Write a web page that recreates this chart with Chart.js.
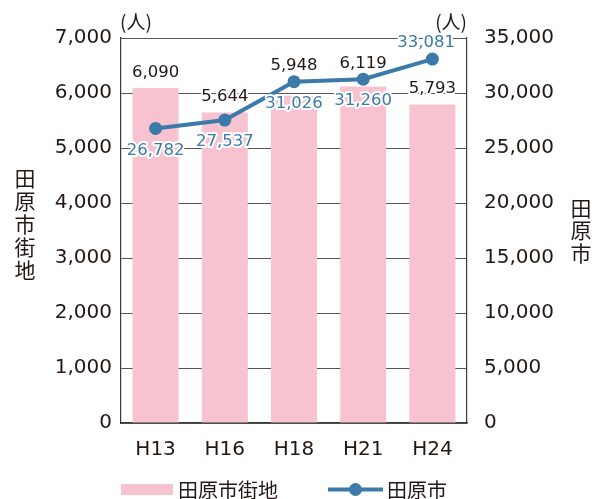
<!DOCTYPE html>
<html><head><meta charset="utf-8">
<script src="https://cdn.jsdelivr.net/npm/chart.js@4/dist/chart.umd.min.js"></script>
<style>html,body{margin:0;padding:0;background:#fff}canvas{display:block}</style>
</head><body>
<canvas id="c" width="594" height="499"></canvas>
<script>
const categories = ['H13', 'H16', 'H18', 'H21', 'H24'];
const urbanValues = [6090, 5644, 5948, 6119, 5793];
const cityValues = [26782, 27537, 31026, 31260, 33081];
const leftTicks = [0, 1000, 2000, 3000, 4000, 5000, 6000, 7000];
const rightTicks = [0, 5000, 10000, 15000, 20000, 25000, 30000, 35000];
const urbanName = '田原市街地';
const cityName = '田原市';
const unitLabel = '(人)';
const cityLabelPlacement = ['below', 'below', 'below', 'below', 'above'];

const TXT = '#231815';
const PINK = '#f7c3d0';
const BLUE = '#3b7aa9';
const NUM_FONT = '"DejaVu Sans", sans-serif';
const CJK_FONT = '"Noto Sans CJK JP", sans-serif';
const fmt = v => Number(v).toLocaleString('en-US');

function haloText(ctx, text, x, y, color, font, align) {
  ctx.save();
  ctx.font = font;
  ctx.textAlign = align || 'center';
  ctx.textBaseline = 'middle';
  ctx.lineJoin = 'round';
  ctx.strokeStyle = '#fff';
  ctx.lineWidth = 4;
  ctx.strokeText(text, x, y);
  ctx.fillStyle = color;
  ctx.fillText(text, x, y);
  ctx.restore();
}

const decorPlugin = {
  id: 'decor',
  afterDatasetsDraw(chart) {
    const ctx = chart.ctx;
    const area = chart.chartArea;
    const barMeta = chart.getDatasetMeta(0);
    const lineMeta = chart.getDatasetMeta(1);
    const numFont = '16.5px ' + NUM_FONT;
    barMeta.data.forEach((bar, i) => {
      const pt = lineMeta.data[i];
      let top = bar.y;
      if (pt.y < bar.y && bar.y - pt.y < 25) top = pt.y;
      haloText(ctx, fmt(urbanValues[i]), bar.x, top - 15.5, TXT, numFont);
    });
    lineMeta.data.forEach((pt, i) => {
      ctx.save(); ctx.font = numFont;
      const w = ctx.measureText(fmt(cityValues[i])).width;
      ctx.restore();
      let x = pt.x;
      if (x + w / 2 > area.right - 12) x = area.right - 12 - w / 2;
      const y = cityLabelPlacement[i] === 'above' ? pt.y - 16.5 : pt.y + 22;
      haloText(ctx, fmt(cityValues[i]), x, y, BLUE, numFont);
    });
  },
  afterDraw(chart) {
    const ctx = chart.ctx;
    const area = chart.chartArea;
    ctx.save();
    ctx.fillStyle = TXT;
    ctx.textBaseline = 'middle';
    ctx.textAlign = 'center';
    ctx.font = '21px ' + CJK_FONT;
    Array.from(urbanName).forEach((ch, i) => ctx.fillText(ch, 25, 178 + i * 23));
    Array.from(cityName).forEach((ch, i) => ctx.fillText(ch, 581, 208 + i * 22.5));
    ctx.font = '19px ' + CJK_FONT;
    ctx.textAlign = 'left';
    ctx.fillText(unitLabel, area.left - 1, 22);
    ctx.textAlign = 'right';
    ctx.fillText(unitLabel, area.right, 22);
    const ly = 489.5;
    ctx.fillStyle = PINK;
    ctx.fillRect(121, ly - 5.5, 52, 11);
    ctx.fillStyle = TXT;
    ctx.textAlign = 'left';
    ctx.font = '20px ' + CJK_FONT;
    ctx.fillText(urbanName, 178, ly + 1);
    ctx.strokeStyle = BLUE;
    ctx.lineWidth = 4;
    ctx.beginPath(); ctx.moveTo(328, ly); ctx.lineTo(383, ly); ctx.stroke();
    ctx.fillStyle = BLUE;
    ctx.beginPath(); ctx.arc(355.5, ly, 6.5, 0, Math.PI * 2); ctx.fill();
    ctx.fillStyle = TXT;
    ctx.fillText(cityName, 387, ly + 1);
    ctx.restore();
  }
};

new Chart(document.getElementById('c'), {
  data: {
    labels: categories,
    datasets: [
      { type: 'bar', label: urbanName, data: urbanValues, yAxisID: 'y', backgroundColor: PINK,
        borderWidth: 0, barPercentage: 0.665, categoryPercentage: 1, order: 2 },
      { type: 'line', label: cityName, data: cityValues, yAxisID: 'y1', borderColor: BLUE,
        backgroundColor: BLUE, borderWidth: 4, pointRadius: 6.5, pointHoverRadius: 6.5,
        pointBackgroundColor: BLUE, pointBorderWidth: 0, tension: 0, order: 1 }
    ]
  },
  options: {
    responsive: false,
    devicePixelRatio: 1,
    animation: false,
    layout: { padding: { top: 38, left: 0, right: 0, bottom: 0 } },
    plugins: { legend: { display: false }, tooltip: { enabled: false } },
    scales: {
      x: {
        type: 'category', offset: true,
        grid: { display: false, drawTicks: false },
        border: { display: true, color: '#3a3a3a', width: 1.2 },
        ticks: { color: TXT, font: { family: NUM_FONT, size: 20 }, padding: 15, maxRotation: 0 },
        afterFit: s => { s.height = 76; }
      },
      y: {
        position: 'left', min: 0, max: 7000,
        afterBuildTicks: s => { s.ticks = leftTicks.map(v => ({ value: v })); },
        grid: { color: '#555', lineWidth: 1, drawTicks: false },
        border: { display: true, color: '#3a3a3a', width: 1.2 },
        ticks: { color: TXT, font: { family: NUM_FONT, size: 20 }, padding: 9, callback: v => fmt(v) },
        afterFit: s => { s.width = 121; }
      },
      y1: {
        position: 'right', min: 0, max: 35000,
        afterBuildTicks: s => { s.ticks = rightTicks.map(v => ({ value: v })); },
        grid: { display: false, drawTicks: false },
        border: { display: true, color: '#3a3a3a', width: 1.2 },
        ticks: { color: TXT, font: { family: NUM_FONT, size: 20 }, padding: 17, callback: v => fmt(v) },
        afterFit: s => { s.width = 127; }
      }
    }
  },
  plugins: [decorPlugin]
});
</script>
</body></html>
